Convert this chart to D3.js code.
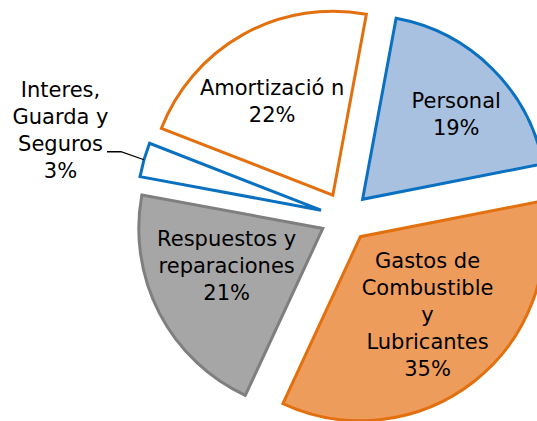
<!DOCTYPE html>
<html>
<head>
<meta charset="utf-8">
<script src="https://cdn.jsdelivr.net/npm/d3@7"></script>
<style>
  body { margin: 0; background: #fff; }
  text { font-family: "DejaVu Sans", sans-serif; font-size: 21px; fill: #000; }
</style>
</head>
<body>
<div class="chart"></div>
<script>
const width = 537
const height = 421

// data
const categories = ["Personal", "Gastos de Combustible y Lubricantes", "Respuestos y reparaciones", "Interes, Guarda y Seguros", "Amortización"]
const labelLines = [
    ["Personal"],
    ["Gastos de", "Combustible", "y", "Lubricantes"],
    ["Respuestos y", "reparaciones"],
    ["Interes,", "Guarda y", "Seguros"],
    ["Amortizació n"]
]
const shares = [19, 35, 21, 3, 22]

// styles
const fills = ["#a8c1e1", "#ee9c5c", "#a6a6a6", "#ffffff", "#ffffff"]
const strokes = ["#0a70c0", "#e3700f", "#7f7f7f", "#0a70c0", "#e3700f"]
// small nudges of the labels from the arc centroid
const nudges = [[16, -7], [-1, -9], [2, -13], [0, 0], [-7, 2]]

const cx = 345, cy = 217
const radius = 184
const explode = 25
const lineH = 27

const svg = d3.select('.chart')
    .append('svg')
    .attr('width', width)
    .attr('height', height)

const pie = d3.pie()
    .sort(null)
    .startAngle(10.5 * Math.PI / 180)
    .endAngle((360 + 10.5) * Math.PI / 180)
    .value(d => d)

const arcs = pie(shares)
const total = d3.sum(shares)

const arc = d3.arc().innerRadius(0).outerRadius(radius)
const labelArc = d3.arc().innerRadius(radius * 0.6).outerRadius(radius * 0.6)

// offset of each slice along its bisector
function shift(d) {
    const mid = (d.startAngle + d.endAngle) / 2
    return [Math.sin(mid) * explode, -Math.cos(mid) * explode]
}

const slices = svg.append("g")
    .attr("transform", `translate(${cx}, ${cy})`)
    .selectAll("g")
    .data(arcs)
    .join("g")
        .attr("transform", d => `translate(${shift(d)})`)

slices.append("path")
    .attr("d", arc)
    .attr("fill", (d, i) => fills[i])
    .attr("stroke", (d, i) => strokes[i])
    .attr("stroke-width", 3)
    .attr("stroke-linejoin", "miter")

// labels: name lines + percentage
slices.each(function(d, i) {
    const g = d3.select(this)
    const lines = labelLines[i].concat([Math.round(d.value / total * 100) + "%"])
    let x, y
    if (i === 3) {
        // small slice: label outside with a leader line
        const mid = (d.startAngle + d.endAngle) / 2
        const ax = Math.sin(mid) * radius, ay = -Math.cos(mid) * radius
        x = ax - 83.5
        y = ay - 29.5
        g.append("path")
            .attr("d", `M${ax},${ay} L${ax - 23},${ay - 8} L${ax - 37},${ay - 8}`)
            .attr("fill", "none")
            .attr("stroke", "#000")
            .attr("stroke-width", 1.3)
    } else {
        const c = labelArc.centroid(d)
        x = c[0] + nudges[i][0]
        y = c[1] + nudges[i][1]
    }
    const t = g.append("text")
        .attr("text-anchor", "middle")
        .attr("x", x)
        .attr("y", y - (lines.length - 1) * lineH / 2)
        .attr("dy", "0.35em")
    lines.forEach((s, k) => {
        t.append("tspan")
            .attr("x", x)
            .attr("dy", k === 0 ? "0.35em" : lineH)
            .text(s)
    })
})
</script>
</body>
</html>
